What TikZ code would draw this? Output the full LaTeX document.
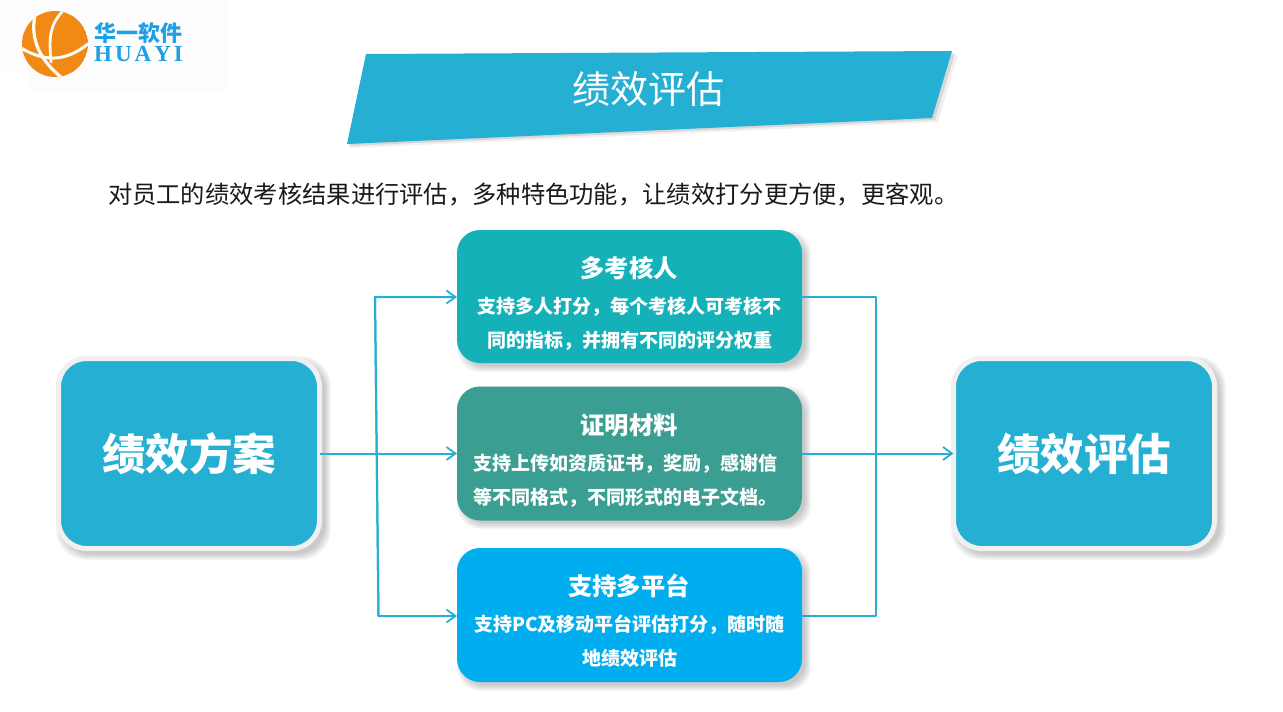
\documentclass[tikz,border=0pt]{standalone}
\usepackage{fontspec}
\setmainfont{Liberation Serif}
\newfontfamily\cjk{Noto Sans CJK SC}
\usetikzlibrary{arrows.meta}
\definecolor{main}{HTML}{24AFD3}
\definecolor{tealbox}{HTML}{14B1B8}
\definecolor{greenbox}{HTML}{3A9E92}
\definecolor{bluebox}{HTML}{00AEF0}
\definecolor{frameg}{HTML}{F0F0F0}
\definecolor{logoblue}{HTML}{1F9FE5}
\definecolor{ball}{HTML}{F08A14}
\newcommand{\softshadow}[5]{%
  \foreach \g in {4,3,2,1,0,-1,-2}{
    \fill[black,opacity=0.03,rounded corners=#5pt]
      ({#1+4-\g},{#2+4-\g}) rectangle ({#3+5+\g},{#4+5+\g});
  }}
\tikzset{
  x=1pt,y=-1pt,
  every node/.style={inner sep=0pt,outer sep=0pt},
  bigbox/.style={draw=frameg,line width=5pt,fill=main,rounded corners=28pt,
    minimum width=261pt,minimum height=190pt,text=white,
    font=\cjk\bfseries\fontsize{43.5}{43.5}\selectfont},
  midbox/.style={rounded corners=23pt,minimum width=345pt,minimum height=134pt},
  head/.style={text=white,font=\cjk\bfseries\fontsize{24.3}{24.3}\selectfont},
  sub/.style={text=white,font=\cjk\bfseries\fontsize{19}{19}\selectfont},
  conn/.style={draw=main,line width=2pt,line join=round},
  arr/.style={conn,-{Straight Barb[length=9pt,width=13pt,line width=1.8pt]}},
  ballline/.style={draw=white!96!ball,line cap=round,line join=round},
}
\begin{document}
\begin{tikzpicture}
\useasboundingbox (0,0) rectangle (1283,712);
\fill[white] (0,0) rectangle (1283,712);
% logo
\fill[black!0.6] (0,0) rectangle (228,70);
\fill[black!0.6] (28,70) rectangle (228,92);
\begin{scope}
  \clip (55,44) circle (33);
  \fill[ball] (55,44) circle (33);
  \draw[ballline,line width=3.2pt] (35,15) .. controls (30,40) and (40,60) .. (62,78);
  \draw[ballline,line width=2.8pt] (62,12) .. controls (47,28) and (50,45) .. (51,62);
  \draw[ballline,line width=3pt] (21,48) .. controls (45,62) and (65,62) .. (88,44);
\end{scope}
\node[anchor=center,text=logoblue,font=\cjk\bfseries\fontsize{22}{22}\selectfont] (logocn) at (138,33) {华一软件};
\node[anchor=center,text=logoblue,font=\rmfamily\bfseries\fontsize{23}{23}\selectfont] (logoen) at (138.5,54) {H\kern3pt U\kern3pt A\kern3pt Y\kern3pt I};
% title band
\fill[black,opacity=0.06] (370,58) -- (958,55) -- (938,122) -- (350,148) -- cycle;
\fill[black,opacity=0.10] (368,56) -- (955,53) -- (935,120) -- (349,146) -- cycle;
\fill[main] (366,54) -- (952,51) -- (932,118) -- (347,144) -- cycle;
\node[text=white,font=\cjk\fontsize{38}{38}\selectfont] (title) at (648,89.5) {绩效评估};
\node[anchor=west,text=black!90,font=\cjk\fontsize{24.3}{24.3}\selectfont] (intro) at (108,194)
  {对员工的绩效考核结果进行评估，多种特色功能，让绩效打分更方便，更客观。};
% shadows
\softshadow{56}{356}{322}{551}{30}
\softshadow{951}{356}{1217}{551}{30}
\softshadow{457}{230}{802}{363}{23}
\softshadow{457}{386}{802}{520}{23}
\softshadow{457}{548}{802}{682}{23}
% boxes
\node[bigbox] (plan) at (189,453.5) {绩效方案};
\node[bigbox] (eval) at (1084,453.5) {绩效评估};
\node[midbox,fill=tealbox,minimum height=133pt] (multi) at (629.5,296.5) {};
\node[midbox,fill=greenbox] (proof) at (629.5,453.5) {};
\node[midbox,fill=bluebox] (plat) at (629.5,615) {};
% box texts
\node[head] (h1) at (629,268) {多考核人};
\node[sub] (l1a) at (629,306.5) {支持多人打分，每个考核人可考核不};
\node[sub] (l1b) at (629.5,340.5) {同的指标，并拥有不同的评分权重};
\node[head] (h2) at (629,425) {证明材料};
\node[sub,anchor=west] (l2a) at (473,463.5) {支持上传如资质证书，奖励，感谢信};
\node[sub,anchor=west] (l2b) at (473,497.5) {等不同格式，不同形式的电子文档。};
\node[head] (h3) at (629,586) {支持多平台};
\node[sub] (l3a) at (629.5,624.5) {支持PC及移动平台评估打分，随时随};
\node[sub] (l3b) at (629.5,658) {地绩效评估};
% connectors
\coordinate (ltop) at (375,297);
\coordinate (lbot) at (378.5,616);
\coordinate (rtop) at (876,297);
\coordinate (rbot) at (876,616);
\coordinate (mtop) at (802,297);
\coordinate (mbot) at (802,616);
\coordinate (ttop) at (457,297);
\coordinate (tbot) at (457,616);
\draw[arr] (plan.east) -- (proof.west);
\draw[arr] (lbot) -- (ltop) -- (ttop);
\draw[arr] (ltop) -- (lbot) -- (tbot);
\draw[conn] (mtop) -- (rtop) -- (rbot) -- (mbot);
\draw[arr] (proof.east) -- (eval.west);
\end{tikzpicture}
\end{document}
